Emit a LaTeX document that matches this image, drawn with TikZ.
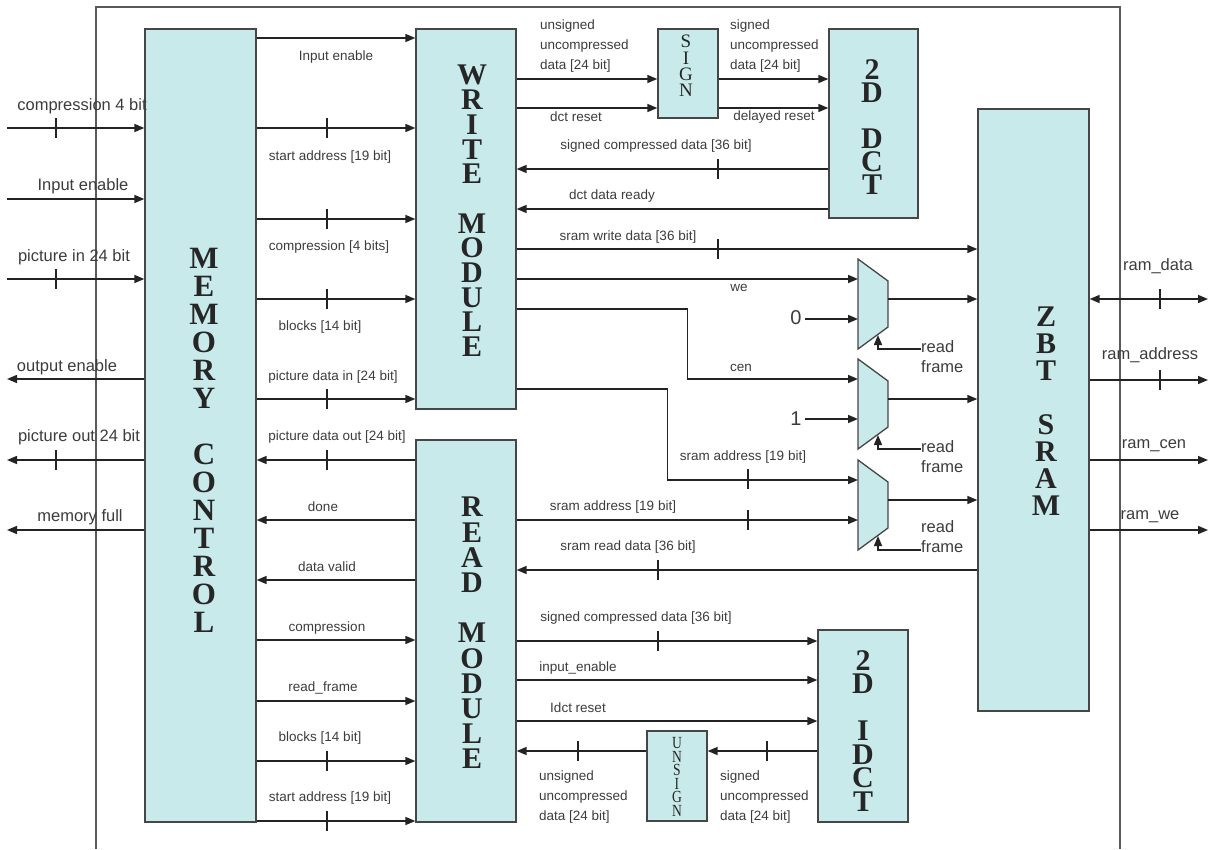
\documentclass[tikz,border=0pt]{standalone}
\usepackage{fontspec}
\setmainfont{Liberation Serif}
\setsansfont{Liberation Sans}
\newfontfamily\narrowserif[FakeStretch=0.8]{Liberation Serif}
\usetikzlibrary{arrows.meta,calc}
\definecolor{boxfill}{RGB}{200,234,235}
\definecolor{boxline}{RGB}{70,70,70}
\definecolor{wirecol}{RGB}{35,35,35}
\definecolor{txtcol}{RGB}{60,60,60}
\definecolor{framecol}{RGB}{90,90,90}

\begin{document}
\begin{tikzpicture}[x=1pt,y=-1pt,->,>={Triangle[length=10pt,width=8pt]},
  wire/.style={draw=wirecol,line width=1.5pt},
  block/.style={draw=boxline,fill=boxfill,line width=1.3pt,inner sep=0pt},
  big/.style={font=\fontsize{30}{#1}\selectfont\bfseries,text=black!85,align=center,inner sep=0pt},
  lbl/.style={font=\sffamily\fontsize{13.5}{20}\selectfont,text=txtcol,inner sep=0pt},
  ext/.style={font=\sffamily\fontsize{16.5}{20}\selectfont,text=txtcol,inner sep=0pt}]
\useasboundingbox (0,0) rectangle (1210,849);

% frame
\draw[-,draw=framecol,line width=1.3pt] (96,849) -- (96,7) -- (1120,7) -- (1120,849);
\coordinate (edgeL) at (7,0);
\coordinate (edgeR) at (1208,0);

% blocks
\node[block,minimum width=111,minimum height=793] (mem) at (200.5,425.5) {};
\node[block,minimum width=100,minimum height=380] (wr) at (466,219) {};
\node[block,minimum width=100,minimum height=382] (rd) at (466,631) {};
\node[block,minimum width=60,minimum height=89] (sgn) at (688,73.5) {};
\node[block,minimum width=89,minimum height=189] (dct) at (873.5,123.5) {};
\node[block,minimum width=111,minimum height=602] (zbt) at (1033.5,410) {};
\node[block,minimum width=90,minimum height=192] (idct) at (863,726) {};
\node[block,minimum width=60,minimum height=90] (uns) at (677,776) {};

\node[big=28,font=\fontsize{31}{28}\selectfont\bfseries] (memtxt) at (204,440) {M\\E\\M\\O\\R\\Y\\~\\C\\O\\N\\T\\R\\O\\L};
\node[big=24.7] (wrtxt) at (472,211) {W\\R\\I\\T\\E\\~\\M\\O\\D\\U\\L\\E};
\node[big=25.2] (rdtxt) at (472,633) {R\\E\\A\\D\\~\\M\\O\\D\\U\\L\\E};
\node[big=27] (zbttxt) at (1046,411) {Z\\B\\T\\~\\S\\R\\A\\M};
\node[big=23] (dcttxt) at (872,127) {2\\D\\~\\D\\C\\T};
\node[big=23.5] (idcttxt) at (863,731) {2\\D\\~\\I\\D\\C\\T};
\node[font=\fontsize{19}{16.3}\selectfont,text=black!85,align=center,inner sep=0pt] (sgntxt) at (686,66) {S\\I\\G\\N};
\node[font=\narrowserif\fontsize{17}{13.6}\selectfont,text=black!85,align=center,inner sep=0pt] (unstxt) at (677,777) {U\\N\\S\\I\\G\\N};

% muxes
\foreach \i/\t in {1/259,2/359,3/460}{
  \draw[-,block] (858,\t) -- ++(30,22) -- ++(0,46) -- ++(-30,22) -- cycle;
  \coordinate (m\i in1) at (858,\t+20);
  \coordinate (m\i in2) at (858,\t+60);
  \coordinate (m\i out) at (888,\t+40);
  \coordinate (m\i sel) at (878,\t+76);
  \coordinate (m\i bot) at (878,\t+90);
}

% left side
\draw[wire] (edgeL |- 0,128) -- (mem.west |- 0,128);
\draw[wire] (edgeL |- 0,199) -- (mem.west |- 0,199);
\draw[wire] (edgeL |- 0,279) -- (mem.west |- 0,279);
\draw[wire] (mem.west |- 0,379) -- (edgeL |- 0,379);
\draw[wire] (mem.west |- 0,460) -- (edgeL |- 0,460);
\draw[wire] (mem.west |- 0,530) -- (edgeL |- 0,530);
\node[ext] (l1) at (82,106) {compression 4 bit};
\node[ext] (l2) at (83,186) {Input enable};
\node[ext] (l3) at (74,257) {picture in 24 bit};
\node[ext] (l4) at (67,367) {output enable};
\node[ext] (l5) at (79,437) {picture out 24 bit};
\node[ext] (l6) at (80,517) {memory full};

% memory control <-> write / read
\draw[wire] (mem.east |- 0,38) -- (wr.west |- 0,38);
\draw[wire] (mem.east |- 0,128) -- (wr.west |- 0,128);
\draw[wire] (mem.east |- 0,219) -- (wr.west |- 0,219);
\draw[wire] (mem.east |- 0,299) -- (wr.west |- 0,299);
\draw[wire] (mem.east |- 0,399) -- (wr.west |- 0,399);
\draw[wire] (rd.west |- 0,460) -- (mem.east |- 0,460);
\draw[wire] (rd.west |- 0,520) -- (mem.east |- 0,520);
\draw[wire] (rd.west |- 0,580) -- (mem.east |- 0,580);
\draw[wire] (mem.east |- 0,640) -- (rd.west |- 0,640);
\draw[wire] (mem.east |- 0,701) -- (rd.west |- 0,701);
\draw[wire] (mem.east |- 0,761) -- (rd.west |- 0,761);
\draw[wire] (mem.east |- 0,821) -- (rd.west |- 0,821);
\node[lbl] (c1) at (336,57) {Input enable};
\node[lbl] (c2) at (330,157) {start address [19 bit]};
\node[lbl] (c3) at (329,247) {compression [4 bits]};
\node[lbl] (c4) at (320,327) {blocks [14 bit]};
\node[lbl] (c5) at (333,377) {picture data in [24 bit]};
\node[lbl] (c6) at (337,437) {picture data out [24 bit]};
\node[lbl] (c7) at (323,507) {done};
\node[lbl] (c8) at (327,567) {data valid};
\node[lbl] (c9) at (327,628) {compression};
\node[lbl] (c10) at (323,688) {read\_frame};
\node[lbl] (c11) at (320,738) {blocks [14 bit]};
\node[lbl] (c12) at (330,798) {start address [19 bit]};

% write module <-> sign / dct
\draw[wire] (wr.east |- 0,79) -- (sgn.west |- 0,79);
\draw[wire] (wr.east |- 0,108) -- (sgn.west |- 0,108);
\draw[wire] (sgn.east |- 0,79) -- (dct.west |- 0,79);
\draw[wire] (sgn.east |- 0,108) -- (dct.west |- 0,108);
\draw[wire] (dct.west |- 0,169) -- (wr.east |- 0,169);
\draw[wire] (dct.west |- 0,209) -- (wr.east |- 0,209);
\node[lbl,align=left,anchor=west] (w1) at (540,46) {unsigned\\uncompressed\\data [24 bit]};
\node[lbl,align=left,anchor=west] (w2) at (730,46) {signed\\uncompressed\\data [24 bit]};
\node[lbl] (w3) at (576,117) {dct reset};
\node[lbl] (w4) at (774,117) {delayed reset};
\node[lbl] (w5) at (656,146) {signed compressed data [36 bit]};
\node[lbl] (w6) at (612,196) {dct data ready};

% write / read module <-> sram
\draw[wire] (wr.east |- 0,249) -- (zbt.west |- 0,249);
\draw[wire] (wr.east |- m1in1) -- (m1in1);
\draw[wire] (wr.east |- 0,309) -- ++(171,0) |- (m2in1);
\draw[wire] (wr.east |- 0,389) -- ++(151,0) |- (m3in1);
\draw[wire] (rd.east |- m3in2) -- (m3in2);
\draw[wire] (zbt.west |- 0,570) -- (rd.east |- 0,570);
\node[font=\sffamily\fontsize{20}{20}\selectfont,text=txtcol] (zero) at (796,318) {0};
\node[font=\sffamily\fontsize{20}{20}\selectfont,text=txtcol] (one) at (796,419) {1};
\draw[wire] (zero.east |- m1in2) -- (m1in2);
\draw[wire] (one.east |- m2in2) -- (m2in2);
\node[ext,align=left,anchor=west] (rf1) at (921,357) {read\\frame};
\node[ext,align=left,anchor=west] (rf2) at (921,457) {read\\frame};
\node[ext,align=left,anchor=west] (rf3) at (921,537) {read\\frame};
\foreach \i in {1,2,3}{
  \draw[wire] (m\i out) -- (zbt.west |- m\i out);
  \draw[wire] (rf\i.west |- m\i bot) -| (m\i sel);
}
\node[lbl] (s1) at (628,237) {sram write data [36 bit]};
\node[lbl] (s2) at (739,288) {we};
\node[lbl] (s3) at (741,368) {cen};
\node[lbl] (s4) at (743,457) {sram address [19 bit]};
\node[lbl] (s5) at (613,507) {sram address [19 bit]};
\node[lbl] (s6) at (628,547) {sram read data [36 bit]};

% read module <-> idct / unsign
\draw[wire] (rd.east |- 0,641) -- (idct.west |- 0,641);
\draw[wire] (rd.east |- 0,680) -- (idct.west |- 0,680);
\draw[wire] (rd.east |- 0,721) -- (idct.west |- 0,721);
\draw[wire] (idct.west |- 0,751) -- (uns.east |- 0,751);
\draw[wire] (uns.west |- 0,751) -- (rd.east |- 0,751);
\node[lbl] (r1) at (636,618) {signed compressed data [36 bit]};
\node[lbl] (r2) at (578,668) {input\_enable};
\node[lbl] (r3) at (578,708) {Idct reset};
\node[lbl,align=left,anchor=west] (r4) at (539,797) {unsigned\\uncompressed\\data [24 bit]};
\node[lbl,align=left,anchor=west] (r5) at (720,797) {signed\\uncompressed\\data [24 bit]};

% sram pins
\draw[wire,<->] (zbt.east |- 0,299) -- (edgeR |- 0,299);
\draw[wire] (zbt.east |- 0,380) -- (edgeR |- 0,380);
\draw[wire] (zbt.east |- 0,460) -- (edgeR |- 0,460);
\draw[wire] (zbt.east |- 0,530) -- (edgeR |- 0,530);
\node[ext] (p1) at (1158,266) {ram\_data};
\node[ext] (p2) at (1150,355) {ram\_address};
\node[ext] (p3) at (1154,446) {ram\_cen};
\node[ext] (p4) at (1150,517) {ram\_we};

% bus width ticks
\foreach \x/\y in {56/128,56/279,56/460,327/128,327/219,327/299,327/399,327/460,327/761,327/821,
  718/169,718/249,748/479,748/520,658/570,658/641,767/751,578/751,1160/299,1160/380}
  \draw[-,wire,line width=1.2pt] (\x,\y-10) -- (\x,\y+10);
\end{tikzpicture}
\end{document}
